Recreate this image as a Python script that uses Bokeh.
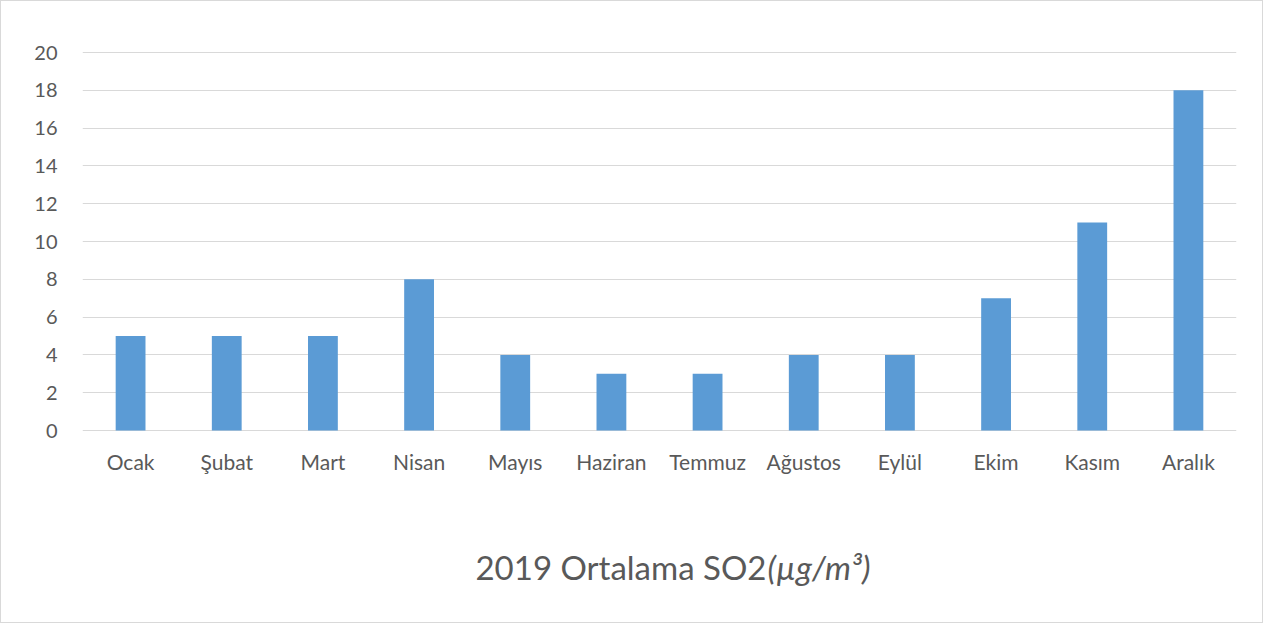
from bokeh.plotting import figure
from bokeh.models import FactorRange, Range1d, FixedTicker, Label
from bokeh.core.properties import value
from bokeh.embed import file_html
from bokeh.resources import INLINE

months = ["Ocak", "Şubat", "Mart", "Nisan", "Mayıs", "Haziran", "Temmuz",
          "Ağustos", "Eylül", "Ekim", "Kasım", "Aralık"]
so2 = [5, 5, 5, 8, 4, 3, 3, 4, 4, 7, 11, 18]
y_ticks = [0, 2, 4, 6, 8, 10, 12, 14, 16, 18, 20]
title_main = "2019 Ortalama SO2"
title_unit = "(µg/m³)"

FONT = "Lato"
TXT = "#595959"
GRID = "#D9D9D9"
BAR = "#5B9BD5"

# frame covers the bar area plus the category labels and the caption below it
p = figure(width=1263, height=623, x_range=FactorRange(*months),
           y_range=Range1d(-9.841, 20.106), output_backend="svg",
           toolbar_location=None,
           min_border_left=81, min_border_right=28, min_border_top=49,
           min_border_bottom=8)
p.styles = {"border": "1px solid #D9D9D9"}
p.outline_line_color = None

p.vbar(x=months, top=so2, width=0.31, color=BAR, line_color=None)

# category labels (x axis) drawn through the factor scale
p.text(x=months, y=[-1.64] * len(months), text=months,
       text_font=value(FONT), text_font_size=value("21px"), text_color=TXT,
       text_align="center", text_baseline="middle")

p.xaxis.visible = False
p.xgrid.grid_line_color = None
p.ygrid.grid_line_color = GRID
p.ygrid.grid_line_width = 1

p.yaxis.ticker = FixedTicker(ticks=y_ticks)
p.yaxis.axis_line_color = None
p.yaxis.major_tick_line_color = None
p.yaxis.minor_tick_line_color = None
p.yaxis.major_label_standoff = 19
p.yaxis.major_label_text_font = FONT
p.yaxis.major_label_text_font_size = "20px"
p.yaxis.major_label_text_color = TXT

t1 = Label(x=7.112, y=-7.196, text=title_main,
           text_font=FONT, text_font_size="33px", text_color=TXT,
           text_align="right", text_baseline="middle")
t2 = Label(x=7.122, y=-7.196, text=title_unit,
           text_font=FONT, text_font_size="33px", text_color=TXT,
           text_font_style="italic", text_align="left", text_baseline="middle")
p.add_layout(t1)
p.add_layout(t2)

open("out.html", "w").write(file_html(p, INLINE))
